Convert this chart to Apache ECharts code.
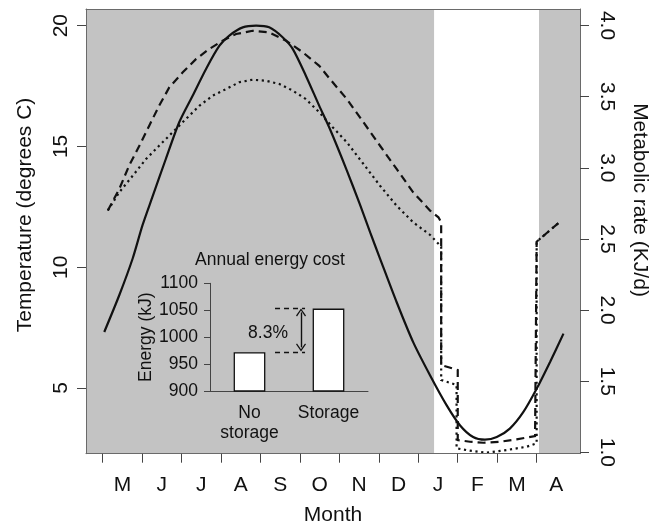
<!DOCTYPE html>
<html>
<head>
<meta charset="utf-8">
<script src="https://cdn.jsdelivr.net/npm/echarts@6/dist/echarts.min.js"></script>
<style>
  html, body { margin: 0; padding: 0; background: #ffffff; }
  #chart { width: 667px; height: 525px; }
</style>
</head>
<body>
<div id="chart"></div>
<script>
// x runs in months: 0 = 1 May, 11 = 1 April of the following year
const monthLetters = ['M', 'J', 'J', 'A', 'S', 'O', 'N', 'D', 'J', 'F', 'M', 'A'];
const monthTicks = [0, 1, 2, 3, 4, 5, 6, 7, 8, 9, 10, 11];
const monthLabelPositions = [0.5, 1.5, 2.5, 3.5, 4.5, 5.5, 6.5, 7.5, 8.5, 9.5, 10.5, 11.5];
const temperatureTicks = [5, 10, 15, 20];
const rateTicks = [1.0, 1.5, 2.0, 2.5, 3.0, 3.5, 4.0];

// hibernation period (start, end) in months
const hibernation = [8.4, 11.06];

// ambient temperature (degrees C)
const temperature = [
  [0.04, 7.32], [0.42, 8.84], [0.76, 10.36], [1.01, 11.74], [1.27, 12.95],
  [1.60, 14.48], [1.94, 16.00], [2.28, 17.10], [2.62, 18.21], [2.96, 19.17],
  [3.21, 19.59], [3.55, 19.93], [3.89, 20.00], [4.22, 19.93], [4.56, 19.52],
  [4.82, 19.03], [5.15, 17.93], [5.49, 16.68], [5.76, 15.72], [6.19, 14.00],
  [6.52, 12.60], [6.78, 11.44], [7.03, 10.36], [7.45, 8.56], [7.87, 6.90],
  [8.30, 5.52], [8.72, 4.28], [9.06, 3.45], [9.39, 2.97], [9.69, 2.86],
  [9.99, 2.97], [10.32, 3.32], [10.66, 4.00], [11.00, 4.97], [11.34, 6.08],
  [11.68, 7.25]
];

// metabolic rate with food storage (KJ/d)
const rateStorage = [
  [0.13, 2.70], [0.42, 2.851], [0.67, 3.015], [0.93, 3.155], [1.18, 3.296],
  [1.43, 3.436], [1.69, 3.566], [2.03, 3.671], [2.37, 3.765], [2.70, 3.835],
  [3.04, 3.893], [3.38, 3.940], [3.80, 3.963], [4.22, 3.952], [4.65, 3.893],
  [5.07, 3.812], [5.49, 3.717], [5.76, 3.624], [6.19, 3.483], [6.61, 3.320],
  [7.03, 3.155], [7.45, 2.992], [7.87, 2.828], [8.30, 2.699], [8.51, 2.652],
  [8.58, 2.617], [8.58, 1.614], [9.00, 1.579], [9.00, 1.087], [9.31, 1.075],
  [9.65, 1.068], [10.07, 1.075], [10.49, 1.092], [10.96, 1.115], [11.00, 1.122],
  [11.00, 2.481], [11.59, 2.621]
];

// metabolic rate without food storage (KJ/d)
const rateNoStorage = [
  [0.13, 2.70], [0.42, 2.828], [0.76, 2.944], [1.10, 3.062], [1.43, 3.155],
  [1.77, 3.249], [2.11, 3.343], [2.45, 3.436], [2.79, 3.507], [3.13, 3.554],
  [3.46, 3.601], [3.80, 3.619], [4.14, 3.612], [4.48, 3.589], [4.82, 3.542],
  [5.15, 3.483], [5.49, 3.390], [5.83, 3.285], [6.19, 3.179], [6.61, 3.027],
  [7.03, 2.874], [7.45, 2.734], [7.87, 2.617], [8.30, 2.528], [8.58, 2.446],
  [8.58, 1.509], [8.97, 1.474], [8.97, 1.029], [9.31, 1.012], [9.73, 0.998],
  [10.24, 1.017], [10.75, 1.040], [11.00, 1.064], [11.00, 2.481], [11.59, 2.621]
];

// inset: annual energy cost (kJ)
const energyCategories = ['No\nstorage', 'Storage'];
const energyCost = [972, 1053];
const energyTicks = [900, 950, 1000, 1050, 1100];

const FONT = '"Liberation Sans", Arial, Helvetica, sans-serif';
const INK = '#111111';
const BOX = '#6a6a6a';

const chart = echarts.init(document.getElementById('chart'), null, { renderer: 'canvas' });

const pct = ((energyCost[1] / energyCost[0] - 1) * 100).toFixed(1) + '%';

const option = {
  animation: false,
  textStyle: { fontFamily: FONT, color: INK },
  grid: [
    { left: 86, top: 9, width: 494, height: 444.7, show: true, outerBoundsMode: 'none',
      containLabel: false, backgroundColor: '#c3c3c3', borderWidth: 0 },
    { left: 210, top: 283.3, width: 158, height: 107.7, show: false, outerBoundsMode: 'none',
      containLabel: false }
  ],
  xAxis: [
    {
      gridIndex: 0, type: 'value', min: -0.423, max: 12.099, z: 10,
      axisLine: { show: true, onZero: false, lineStyle: { color: BOX, width: 1 } },
      axisTick: { show: true, inside: false, length: 9, customValues: monthTicks,
        lineStyle: { color: '#444', width: 1 } },
      axisLabel: { show: true, customValues: monthLabelPositions, margin: 21,
        fontSize: 21, fontFamily: FONT, color: INK,
        formatter: v => monthLetters[Math.floor(v)] },
      splitLine: { show: false },
      name: 'Month', nameLocation: 'middle', nameGap: 51,
      nameTextStyle: { fontSize: 21, fontFamily: FONT, color: INK }
    },
    {
      gridIndex: 0, type: 'value', position: 'top', min: -0.423, max: 12.099, z: 10,
      axisLine: { show: true, onZero: false, lineStyle: { color: BOX, width: 1 } },
      axisTick: { show: false }, axisLabel: { show: false }, splitLine: { show: false }
    },
    {
      gridIndex: 1, type: 'value', min: 0, max: 2,
      axisLine: { show: true, onZero: false, lineStyle: { color: '#444', width: 1 } },
      axisTick: { show: false },
      axisLabel: { show: true, customValues: [0.5, 1.5], margin: 12,
        fontSize: 17.5, lineHeight: 20, fontFamily: FONT, color: INK,
        formatter: v => energyCategories[Math.floor(v)] },
      splitLine: { show: false }
    }
  ],
  yAxis: [
    {
      gridIndex: 0, type: 'value', position: 'left', min: 2.28, max: 20.69, z: 10,
      axisLine: { show: true, onZero: false, lineStyle: { color: BOX, width: 1 } },
      axisTick: { show: true, inside: false, length: 9, customValues: temperatureTicks,
        lineStyle: { color: '#444', width: 1 } },
      axisLabel: { show: true, customValues: temperatureTicks, rotate: 90, margin: 14,
        fontSize: 21, fontFamily: FONT, color: INK },
      splitLine: { show: false }
    },
    {
      gridIndex: 0, type: 'value', position: 'right', min: 0.991, max: 4.116, z: 10,
      axisLine: { show: true, onZero: false, lineStyle: { color: BOX, width: 1 } },
      axisTick: { show: true, inside: false, length: 9, customValues: rateTicks,
        lineStyle: { color: '#444', width: 1 } },
      axisLabel: { show: true, customValues: rateTicks, rotate: -90, margin: 16,
        fontSize: 21, fontFamily: FONT, color: INK,
        formatter: v => Number(v).toFixed(1) },
      splitLine: { show: false }
    },
    {
      gridIndex: 1, type: 'value', min: 900, max: 1100, interval: 50,
      axisLine: { show: true, lineStyle: { color: '#444', width: 1 } },
      axisTick: { show: true, inside: false, length: 6, lineStyle: { color: '#444' } },
      axisLabel: { show: true, margin: 12, fontSize: 17.5, fontFamily: FONT, color: INK,
        formatter: v => String(v) },
      splitLine: { show: false },
      name: 'Energy (kJ)', nameLocation: 'middle', nameRotate: 90, nameGap: 54,
      nameTextStyle: { fontSize: 17.5, fontFamily: FONT, color: INK }
    }
  ],
  series: [
    {
      // hibernation window, drawn under the curves
      type: 'line', xAxisIndex: 0, yAxisIndex: 0, data: [], z: 1, silent: true,
      markArea: {
        silent: true,
        itemStyle: { color: '#ffffff', opacity: 1 },
        data: [[{ xAxis: hibernation[0] }, { xAxis: hibernation[1] }]]
      }
    },
    {
      name: 'Temperature', type: 'line', xAxisIndex: 0, yAxisIndex: 0, z: 3,
      data: temperature, showSymbol: false, smooth: 0.25,
      lineStyle: { color: INK, width: 2.2, type: 'solid' }
    },
    {
      name: 'Storage', type: 'line', xAxisIndex: 0, yAxisIndex: 1, z: 3,
      data: rateStorage, showSymbol: false,
      lineStyle: { color: INK, width: 2.2, type: [8, 5], cap: 'butt', join: 'miter' }
    },
    {
      name: 'No storage', type: 'line', xAxisIndex: 0, yAxisIndex: 1, z: 3,
      data: rateNoStorage, showSymbol: false,
      lineStyle: { color: INK, width: 2.2, type: [2.2, 3.6], cap: 'butt', join: 'miter' }
    },
    {
      name: 'Annual energy cost', type: 'bar', xAxisIndex: 2, yAxisIndex: 2,
      data: energyCost.map((v, i) => [i + 0.5, v]),
      barWidth: 31.7,
      itemStyle: { color: '#ffffff', borderColor: INK, borderWidth: 1.3 },
      markLine: {
        silent: true,
        label: { show: false },
        animation: false,
        data: [
          [{ coord: [0.823, energyCost[1]], symbol: 'none', lineStyle: { type: [5, 4], color: INK, width: 1.3 } },
           { coord: [1.203, energyCost[1]], symbol: 'none' }],
          [{ coord: [0.823, energyCost[0]], symbol: 'none', lineStyle: { type: [5, 4], color: INK, width: 1.3 } },
           { coord: [1.203, energyCost[0]], symbol: 'none' }],
          [{ coord: [1.152, energyCost[1] - 7], symbol: 'path://M5,0 L10,9 L9,10 L5,2.6 L1,10 L0,9 Z', symbolSize: [10, 8],
             lineStyle: { type: 'solid', color: INK, width: 1.4 } },
           { coord: [1.152, energyCost[0] + 9], symbol: 'path://M5,0 L10,9 L9,10 L5,2.6 L1,10 L0,9 Z', symbolSize: [10, 8] }]
        ]
      }
    }
  ],
  graphic: [
    { type: 'text', x: 25, y: 215, rotation: Math.PI / 2,
      style: { text: 'Temperature (degrees C)', font: '21px ' + FONT, fill: INK,
        textAlign: 'center', textVerticalAlign: 'middle' } },
    { type: 'text', x: 640, y: 200, rotation: -Math.PI / 2,
      style: { text: 'Metabolic rate (KJ/d)', font: '21px ' + FONT, fill: INK,
        textAlign: 'center', textVerticalAlign: 'middle' } },
    { type: 'text', x: 270, y: 260,
      style: { text: 'Annual energy cost', font: '17.5px ' + FONT, fill: INK,
        textAlign: 'center', textVerticalAlign: 'middle' } },
    { type: 'text', x: 268, y: 333,
      style: { text: pct, font: '17.5px ' + FONT, fill: INK,
        textAlign: 'center', textVerticalAlign: 'middle' } }
  ]
};

chart.setOption(option);
</script>
</body>
</html>
